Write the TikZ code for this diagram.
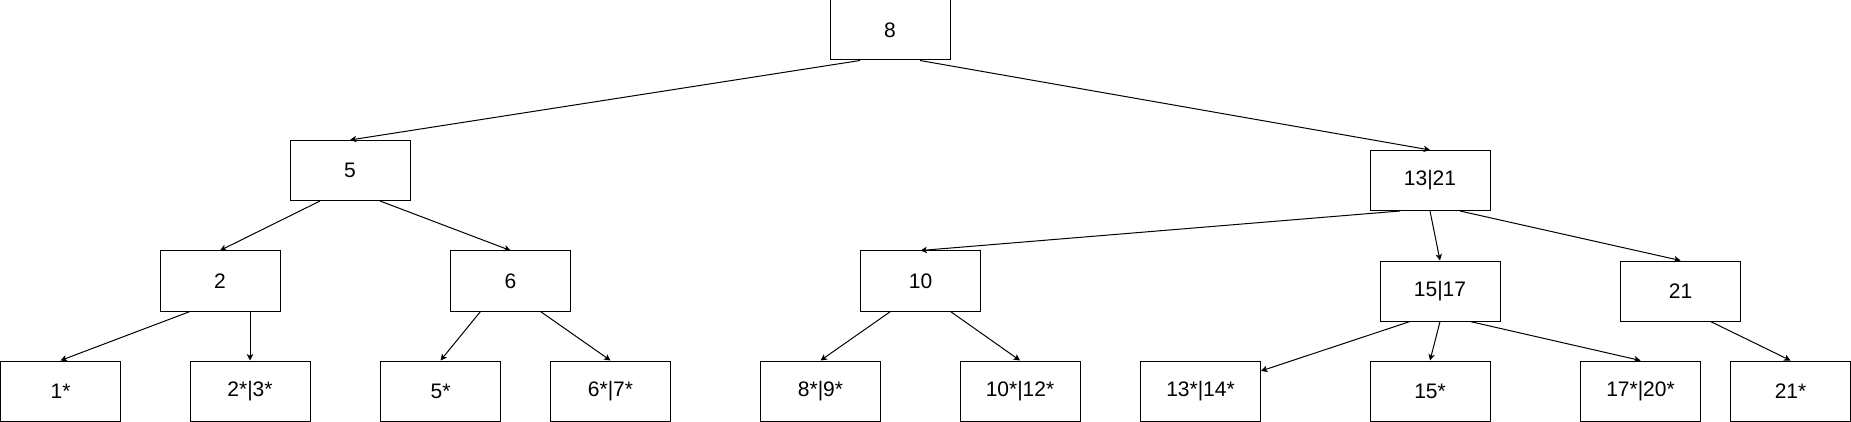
\documentclass[tikz,border=0pt]{standalone}
\usepackage{fontspec}
\setmainfont{Liberation Sans}
\usepackage{tikz}
\usetikzlibrary{
    arrows.meta,
    calc,
    positioning
}
\tikzset{bpkey/.style={inner sep=0pt, rectangle, draw=black, line width=0.5pt, minimum width=60pt, minimum height=30pt, font=\fontsize{10.5pt}{12pt}\selectfont}}
\tikzset{bpptr/.style={line width=0.5pt, -{Stealth[length=3.2pt, width=3.2pt, inset=0.8pt]}}}

\begin{document}
\begin{tikzpicture}[x=0.5pt, y=-0.5pt]
                        \useasboundingbox (0, 0) rectangle (1851, 422);

                        \node[bpkey] (n8) at (890, 30) {8};
                        \node[bpkey] (n5) at (350, 170.5) {5};
                        \node[bpkey] (n1321) at (1430, 180.5) {13|21};

                        \node[bpkey] (n2) at (220, 281) {2};
                        \node[bpkey] (n6) at (510.5, 281) {6};
                        \node[bpkey] (n10) at (920.5, 281) {10};
                        \node[bpkey] (n1517) at (1440, 291) {15|17};
                        \node[bpkey] (n21) at (1680.5, 291) {21};

                        \node[bpkey] (l1) at (60.5, 391) {1*};
                        \node[bpkey] (l23) at (250, 391) {2*|3*};
                        \node[bpkey] (l5) at (440.5, 391) {5*};
                        \node[bpkey] (l67) at (610.5, 391) {6*|7*};
                        \node[bpkey] (l89) at (820.5, 391) {8*|9*};
                        \node[bpkey] (l1012) at (1020, 391) {10*|12*};
                        \node[bpkey] (l1314) at (1200.5, 391) {13*|14*};
                        \node[bpkey] (l15) at (1430, 391) {15*};
                        \node[bpkey] (l1720) at (1640.5, 391) {17*|20*};
                        \node[bpkey] (l21) at (1790.5, 391) {21*};

                        \path[bpptr]
                        ([xshift=-15pt]n8.south) edge (n5.north)
                        ([xshift=15pt]n8.south) edge (n1321.north)
                        ([xshift=-15pt]n5.south) edge (n2.north)
                        ([xshift=15pt]n5.south) edge (n6.north)
                        ([xshift=-15pt]n1321.south) edge (n10.north)
                        (n1321.south) edge (n1517.north)
                        ([xshift=15pt]n1321.south) edge (n21.north)
                        ([xshift=-15pt]n2.south) edge (l1.north)
                        ([xshift=15pt]n2.south) edge (l23.north)
                        ([xshift=-15pt]n6.south) edge (l5.north)
                        ([xshift=15pt]n6.south) edge (l67.north)
                        ([xshift=-15pt]n10.south) edge (l89.north)
                        ([xshift=15pt]n10.south) edge (l1012.north)
                        ([xshift=-15pt]n1517.south) edge (l1314)
                        (n1517.south) edge (l15.north)
                        ([xshift=15pt]n1517.south) edge (l1720.north)
                        ([xshift=15pt]n21.south) edge (l21.north);
                    \end{tikzpicture}
\end{document}
